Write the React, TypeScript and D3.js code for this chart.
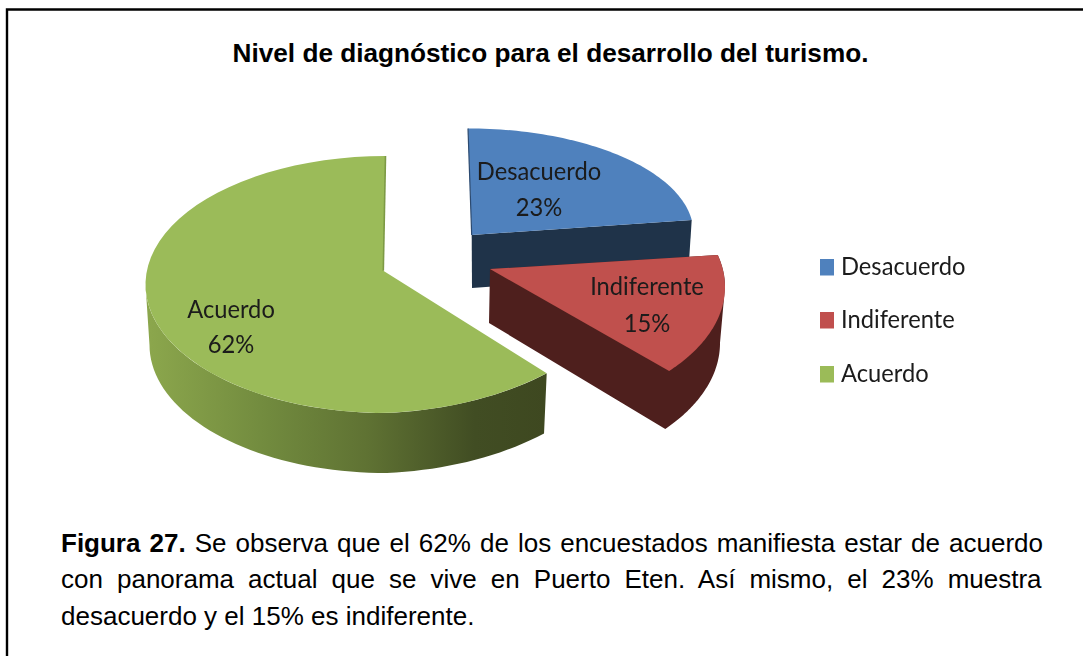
import React from "react";
import * as d3 from "d3";

const categories = ["Desacuerdo", "Indiferente", "Acuerdo"];
const values = [23, 15, 62];
const faceColors = ["#4f81bd", "#c0504d", "#9bbb59"];
const sideColors = ["#1f3349", "#4e1f1d", "url(#greenSide)"];
const titleText = "Nivel de diagnóstico para el desarrollo del turismo.";
const captionBold = "Figura 27.";
const captionLines = [
  " Se observa que el 62% de los encuestados manifiesta estar de acuerdo",
  "con panorama actual que se vive en Puerto Eten. Así mismo, el 23% muestra",
  "desacuerdo y el 15% es indiferente.",
];

// Projection of each exploded wedge: apex, top ellipse, bottom ellipse.
const wedges = [
  { apex: [471.7, 235], apexB: [472, 288], c: [468, 233], rx: 225.5, ry: 104.6, cB: [466, 286], rxB: 224, ryB: 104.6, rot0: 0, rot1: 0, lift: 0 },
  { apex: [490, 269], apexB: [489, 323], c: [485, 287], rx: 240, ry: 131, cB: [485, 343], rxB: 235, ryB: 134, rot0: -6.9, rot1: -6.9, lift: 0 },
  { apex: [383.3, 270.7], apexB: [383, 271], c: [385.5, 284.5], rx: 240, ry: 128.5, cB: [385.5, 345], rxB: 236, ryB: 128, rot0: 1, rot1: 0, lift: 0.04 },
];
const labelPos = [
  [539, 180, 216],
  [647, 295, 332],
  [231, 318, 353],
];
const legendY = [259, 312, 366];
const labelSqueeze = 0.93;

const color = d3.scaleOrdinal<string, string>().domain(categories).range(faceColors);
const slices = d3.pie<number>().sort(null)(values);
const line = d3.line<number[]>().x((d) => d[0]).y((d) => d[1]);

// Point on a projected rim; "lift" raises the right half, as the perspective of the source does.
const pt = (c: number[], rx: number, ry: number, a: number, lift = 0) => {
  const x = c[0] + rx * Math.sin(a);
  return [x, c[1] - ry * Math.cos(a) - lift * Math.max(0, x - c[0])];
};
const arcPts = (c: number[], rx: number, ry: number, a0: number, a1: number, lift = 0) =>
  d3.range(0, 61).map((i) => pt(c, rx, ry, a0 + ((a1 - a0) * i) / 60, lift));

const rad = Math.PI / 180;

const textWidth = (() => {
  const ctx = document.createElement("canvas").getContext("2d")!;
  return (t: string, font: string) => {
    ctx.font = font;
    return ctx.measureText(t).width;
  };
})();

const capSize = 26;
const capFont = `${capSize}px "Liberation Sans"`;
const capBoldFont = `bold ${capSize}px "Liberation Sans"`;
const capLeft = 61;
const capRight = 1043;
const spacing = (l: string, bold: string) => {
  const natural = textWidth(l, capFont) + (bold ? textWidth(bold, capBoldFont) : 0);
  const spaces = ((bold + l).match(/ /g) || []).length;
  return (capRight - capLeft - natural) / spaces;
};

export default function App() {
  return (
    <svg
      width={1083}
      height={656}
      style={{ position: "absolute", left: 0, top: 0, background: "#fff" }}
    >
      <defs>
        <linearGradient id="greenSide" gradientUnits="userSpaceOnUse" x1={150} x2={546} y1={0} y2={0}>
          <stop offset="0" stopColor="#8ba64c" />
          <stop offset="0.3" stopColor="#718a3e" />
          <stop offset="0.55" stopColor="#5f7233" />
          <stop offset="0.82" stopColor="#414d23" />
          <stop offset="1" stopColor="#3e4820" />
        </linearGradient>
        <filter id="soft" x="-5%" y="-5%" width="110%" height="110%">
          <feGaussianBlur stdDeviation="0.45" />
        </filter>
      </defs>

      <path d="M7 656V9.5H1083" fill="none" stroke="#000" strokeWidth={2.4} />

      <text
        x={550.5}
        y={62}
        textAnchor="middle"
        fontFamily="Liberation Sans"
        fontWeight="bold"
        fontSize={26.2}
        fill="#000"
      >
        {titleText}
      </text>

      {[2, 0, 1].map((i) => {
        const w = wedges[i];
        const s = slices[i];
        const a0 = s.startAngle + w.rot0 * rad;
        const a1 = s.endAngle + w.rot1 * rad;
        let side: number[][];
        if (i === 2) {
          const sEnd = 270 * rad;
          side = [
            ...arcPts(w.c, w.rx, w.ry, a0, sEnd, w.lift),
            ...arcPts(w.cB, w.rxB, w.ryB, sEnd, a0, w.lift),
          ];
        } else if (i === 1) {
          side = [
            w.apex,
            w.apexB,
            ...arcPts(w.cB, w.rxB, w.ryB, a1, a0 + 14 * rad),
            ...arcPts(w.c, w.rx, w.ry, a0 + 14 * rad, a0),
          ];
        } else {
          side = [w.apex, pt(w.c, w.rx, w.ry, a1), pt(w.cB, w.rxB, w.ryB, a1), w.apexB];
        }
        const face = [w.apex, ...arcPts(w.c, w.rx, w.ry, a0, a1, w.lift)];
        const cat = categories[i];
        return (
          <g key={cat}>
            <path d={(line(side) || "") + "Z"} fill={sideColors[i]} />
            <path d={(line(face) || "") + "Z"} fill={color(cat)} />
            {i === 2 && (
              <path
                d={line([pt(w.c, w.rx, w.ry, a1), w.apex]) || ""}
                stroke="#7d9a45"
                strokeWidth={1.6}
                fill="none"
              />
            )}
            {i === 0 && (
              <path
                d={line([pt(w.c, w.rx, w.ry, a0), w.apex]) || ""}
                stroke="#2c4a70"
                strokeWidth={1.2}
                fill="none"
              />
            )}
          </g>
        );
      })}

      <g filter="url(#soft)" fontFamily="Lato" fontSize={25.5} fill="#1a1a1a">
        {categories.map((c, i) => (
          <g key={c} textAnchor="middle">
            <text transform={`translate(${labelPos[i][0]},${labelPos[i][1]}) scale(${labelSqueeze},1)`}>
              {c}
            </text>
            <text transform={`translate(${labelPos[i][0]},${labelPos[i][2]}) scale(${labelSqueeze},1)`}>
              {values[i]}%
            </text>
          </g>
        ))}
        {categories.map((c, i) => (
          <g key={c}>
            <rect x={820} y={legendY[i]} width={14} height={16.5} fill={color(c)} />
            <text transform={`translate(841,${legendY[i] + 16}) scale(${labelSqueeze},1)`}>
              {c}
            </text>
          </g>
        ))}
      </g>

      <g fontFamily="Liberation Sans" fontSize={capSize} fill="#000">
        {captionLines.map((l, i) => {
          const bold = i === 0 ? captionBold : "";
          const ws = i === captionLines.length - 1 ? 0 : spacing(l, bold);
          return (
            <text key={i} x={capLeft} y={552 + i * 36.4} wordSpacing={ws} xmlSpace="preserve">
              {bold && <tspan fontWeight="bold">{bold}</tspan>}
              <tspan>{l}</tspan>
            </text>
          );
        })}
      </g>
    </svg>
  );
}
